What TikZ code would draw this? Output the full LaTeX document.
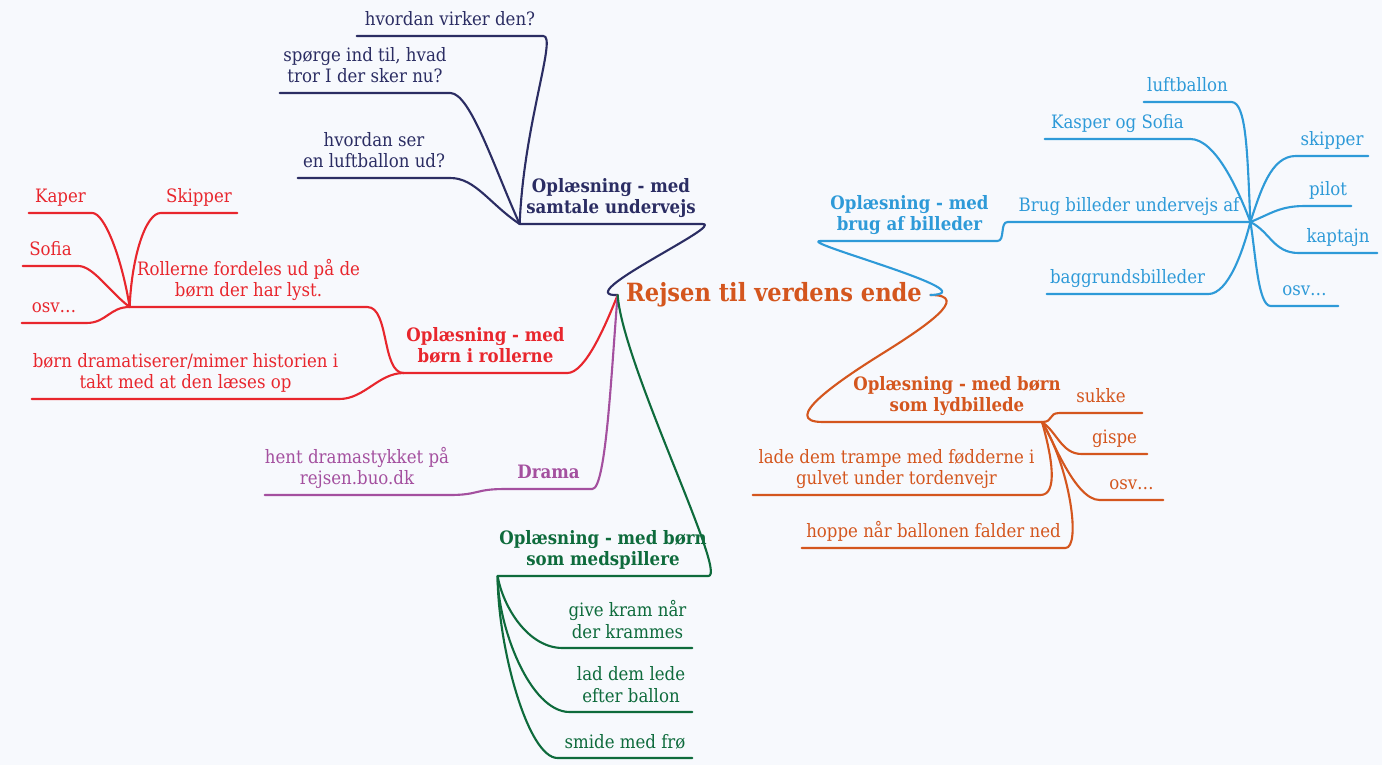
\documentclass[tikz,border=0pt]{standalone}
\usepackage{fontspec}
\setmainfont{DejaVu Serif Condensed}
\definecolor{cbg}{HTML}{F7F9FD}
\definecolor{cnavy}{HTML}{2B2D63}
\definecolor{cred}{HTML}{E8262D}
\definecolor{cpurple}{HTML}{A4509F}
\definecolor{cgreen}{HTML}{0E6B3C}
\definecolor{corange}{HTML}{D4561E}
\definecolor{cblue}{HTML}{2E9AD8}
\tikzset{
  leaf/.style={anchor=south, inner xsep=0pt, inner ysep=2.5pt, text depth=3pt, align=center, font=\fontsize{10.5}{12.5}\selectfont},
  head/.style={leaf, font=\fontsize{10.5}{12.5}\selectfont\bfseries},
  root/.style={inner sep=0pt, minimum width=312*0.02cm, font=\fontsize{14.3}{16}\selectfont\bfseries},
  ul/.style={minimum width=#1*0.02cm},
  branch/.style={line width=1.2pt, line cap=round, line join=round}
}
\begin{document}
\begin{tikzpicture}[x=0.02cm, y=-0.02cm]
    \useasboundingbox (0,0) rectangle (1382,765);
    \fill[cbg] (0,0) rectangle (1382,765);
    \node[root, corange] (root) at (774,295) {Rejsen til verdens ende};
    % samtale undervejs
    \node[head, cnavy, ul=182] (sam) at (611,224) {Oplæsning - med\\samtale undervejs};
    \node[leaf, cnavy, ul=186] (vir) at (450,36) {hvordan virker den?};
    \node[leaf, cnavy, ul=170] (tro) at (365,93) {spørge ind til, hvad\\tror I der sker nu?};
    \node[leaf, cnavy, ul=152] (ser) at (374,178) {hvordan ser\\en luftballon ud?};
    \draw[branch, cnavy] (sam.south west) -- (sam.south east) .. controls +(25,0) and +(-50,2) .. (root.west);
    \draw[branch, cnavy] (vir.south west) -- (vir.south east) .. controls +(14,0) and +(4,-100) .. (sam.south west);
    \draw[branch, cnavy] (tro.south west) -- (tro.south east) .. controls +(20,0) and +(-25,-55) .. (sam.south west);
    \draw[branch, cnavy] (ser.south west) -- (ser.south east) .. controls +(25,0) and +(-30,-20) .. (sam.south west);
    % boern i rollerne
    \node[head, cred, ul=163] (rol) at (485.5,373) {Oplæsning - med\\børn i rollerne};
    \node[leaf, cred, ul=237] (for) at (248.5,307) {Rollerne fordeles ud på de\\børn der har lyst.};
    \node[leaf, cred, ul=307] (mim) at (185.5,399) {børn dramatiserer/mimer historien i\\takt med at den læses op};
    \node[leaf, cred, ul=63] (kap) at (60.5,213) {Kaper};
    \node[leaf, cred, ul=76] (ski) at (199,213) {Skipper};
    \node[leaf, cred, ul=55] (sof) at (50.5,266) {Sofia};
    \node[leaf, cred, ul=64] (osr) at (54,323) {osv…};
    \draw[branch, cred] (rol.south west) -- (rol.south east) .. controls +(18,0) and +(-12,30) .. (root.west);
    \draw[branch, cred] (for.south west) -- (for.south east) .. controls +(22,0) and +(-22,0) .. (rol.south west);
    \draw[branch, cred] (mim.south west) -- (mim.south east) .. controls +(25,0) and +(-25,0) .. (rol.south west);
    \draw[branch, cred] (kap.south west) -- (kap.south east) .. controls +(12,0) and +(-8,-50) .. (for.south west);
    \draw[branch, cred] (ski.south east) -- (ski.south west) .. controls +(-15,0) and +(2,-50) .. (for.south west);
    \draw[branch, cred] (sof.south west) -- (sof.south east) .. controls +(15,0) and +(-20,-15) .. (for.south west);
    \draw[branch, cred] (osr.south west) -- (osr.south east) .. controls +(20,0) and +(-20,0) .. (for.south west);
    % drama
    \node[head, cpurple, ul=87] (dra) at (548.5,489) {Drama};
    \node[leaf, cpurple, ul=180] (hen) at (357,495) {hent dramastykket på\\rejsen.buo.dk};
    \draw[branch, cpurple] (dra.south west) -- (dra.south east) .. controls +(14,0) and +(-6,70) .. (root.west);
    \draw[branch, cpurple] (hen.south west) -- (hen.south east) .. controls +(30,0) and +(-30,0) .. (dra.south west);
    % boern som medspillere
    \node[head, cgreen, ul=210] (spi) at (603,576) {Oplæsning - med børn\\som medspillere};
    \node[leaf, cgreen, ul=129] (kra) at (627.5,648) {give kram når\\der krammes};
    \node[leaf, cgreen, ul=122] (led) at (631,712) {lad dem lede\\efter ballon};
    \node[leaf, cgreen, ul=134] (fro) at (625,758) {smide med frø};
    \draw[branch, cgreen] (spi.south west) -- (spi.south east) .. controls +(20,0) and +(5,70) .. (root.west);
    \draw[branch, cgreen] (kra.south east) -- (kra.south west) .. controls +(-35,0) and +(5,30) .. (spi.south west);
    \draw[branch, cgreen] (led.south east) -- (led.south west) .. controls +(-40,0) and +(0,50) .. (spi.south west);
    \draw[branch, cgreen] (fro.south east) -- (fro.south west) .. controls +(-30,0) and +(0,70) .. (spi.south west);
    % boern som lydbillede
    \node[head, corange] (lyd) at (957,422) {Oplæsning - med børn\\som lydbillede};
    \coordinate (lydl) at (823,422);
    \coordinate (lydj) at (1042,422);
    \node[leaf, corange, ul=82] (suk) at (1101,413) {sukke};
    \node[leaf, corange, ul=65] (gis) at (1114.5,454) {gispe};
    \node[leaf, corange, ul=63] (oso) at (1131.5,500) {osv…};
    \node[leaf, corange, ul=287] (tra) at (896.5,495) {lade dem trampe med fødderne i\\gulvet under tordenvejr};
    \node[leaf, corange, ul=263] (hop) at (933.5,548) {hoppe når ballonen falder ned};
    \draw[branch, corange] (root.east) .. controls +(42,0) and +(45,-28) .. (880,355) .. controls +(-40,25) and +(-45,0) .. (lydl) -- (lydj);
    \draw[branch, corange] (suk.south east) -- (suk.south west) .. controls +(-12,0) and +(12,0) .. (lydj);
    \draw[branch, corange] (gis.south east) -- (gis.south west) .. controls +(-20,0) and +(15,10) .. (lydj);
    \draw[branch, corange] (oso.south east) -- (oso.south west) .. controls +(-25,0) and +(10,15) .. (lydj);
    \draw[branch, corange] (tra.south west) -- (tra.south east) .. controls +(18,0) and +(10,35) .. (lydj);
    \draw[branch, corange] (hop.south west) -- (hop.south east) .. controls +(16,0) and +(28,45) .. (lydj);
    % brug af billeder
    \node[head, cblue, ul=175] (bil) at (909.5,241) {Oplæsning - med\\brug af billeder};
    \node[leaf, cblue, ul=242] (bru) at (1129,222) {Brug billeder undervejs af};
    \node[leaf, cblue, ul=87] (luf) at (1187.5,102) {luftballon};
    \node[leaf, cblue, ul=145] (kas) at (1117.5,139) {Kasper og Sofia};
    \node[leaf, cblue, ul=72] (skp) at (1332,156) {skipper};
    \node[leaf, cblue, ul=46] (pil) at (1328,206) {pilot};
    \node[leaf, cblue, ul=78] (kpt) at (1338,253) {kaptajn};
    \node[leaf, cblue, ul=67] (osb) at (1304.5,306) {osv…};
    \node[leaf, cblue, ul=161] (bag) at (1127.5,294) {baggrundsbilleder};
    \draw[branch, cblue] (root.east) .. controls +(62,-2) and +(-32,-1) .. (bil.south west) -- (bil.south east) .. controls +(8,0) and +(-8,0) .. (bru.south west) -- (bru.south east);
    \draw[branch, cblue] (luf.south west) -- (luf.south east) .. controls +(15,0) and +(-3,-70) .. (bru.south east);
    \draw[branch, cblue] (kas.south west) -- (kas.south east) .. controls +(25,0) and +(-12,-32) .. (bru.south east);
    \draw[branch, cblue] (skp.south east) -- (skp.south west) .. controls +(-25,0) and +(10,-30) .. (bru.south east);
    \draw[branch, cblue] (pil.south east) -- (pil.south west) .. controls +(-25,0) and +(20,-8) .. (bru.south east);
    \draw[branch, cblue] (kpt.south east) -- (kpt.south west) .. controls +(-25,0) and +(20,10) .. (bru.south east);
    \draw[branch, cblue] (osb.south east) -- (osb.south west) .. controls +(-13,0) and +(5,28) .. (bru.south east);
    \draw[branch, cblue] (bag.south west) -- (bag.south east) .. controls +(20,0) and +(-7,28) .. (bru.south east);
\end{tikzpicture}
\end{document}
